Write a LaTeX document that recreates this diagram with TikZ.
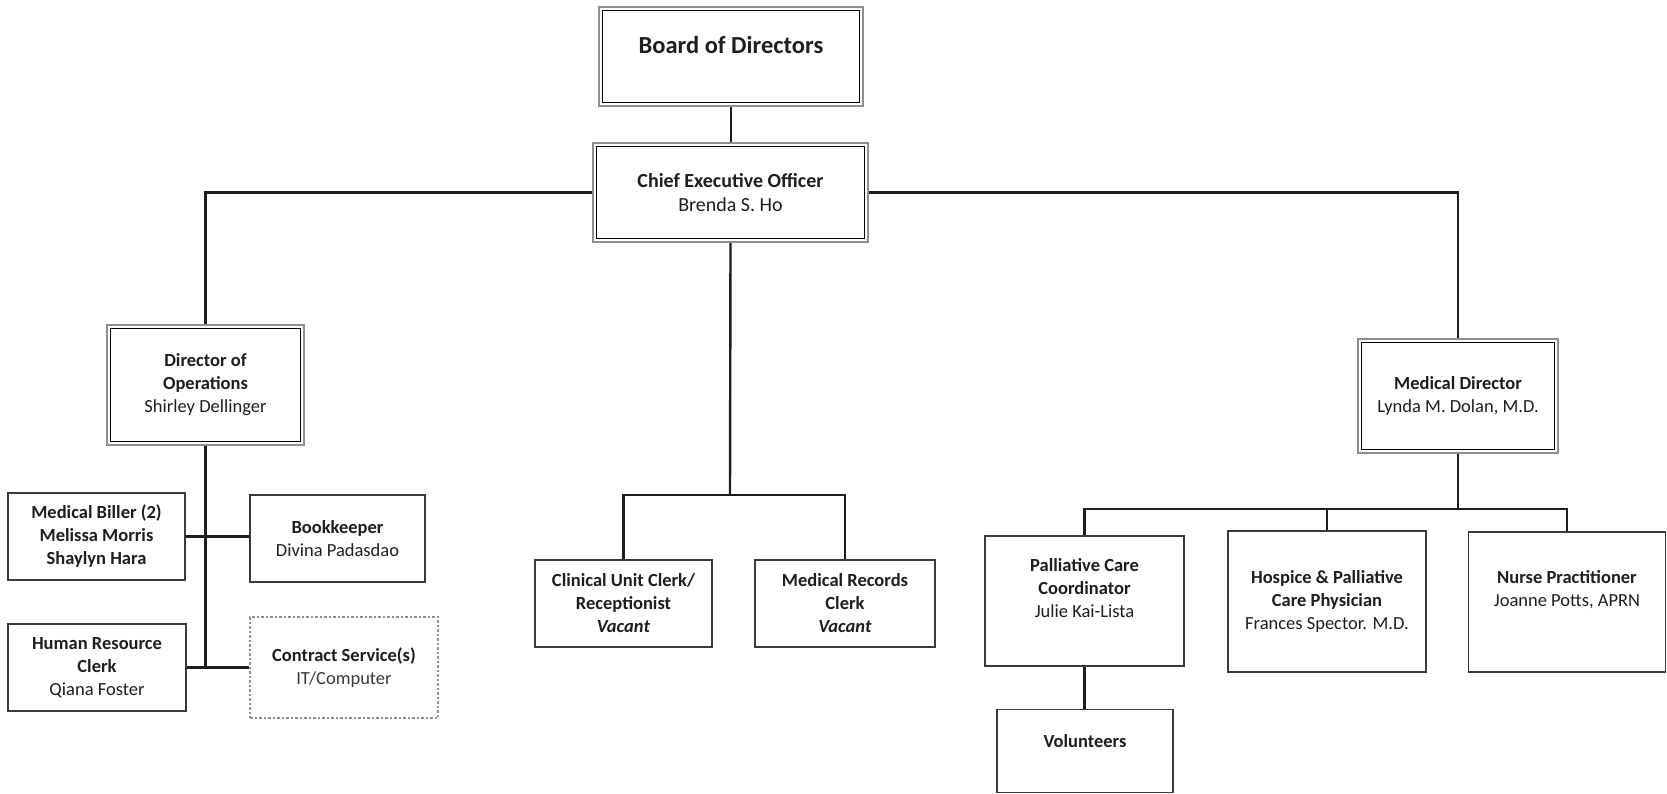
\documentclass[tikz,border=0pt]{standalone}
\usepackage{fontspec}
\setmainfont{Carlito}
\usepackage{tikz}
\definecolor{inkgrey}{HTML}{1E1E1E}
\definecolor{rimgrey}{HTML}{8F8F8F}
\definecolor{boxgrey}{HTML}{3A3A3A}
\newcommand{\staff}[1]{{\mdseries #1}} % name line, not bold
\tikzset{
	orgtext/.style={align=center, text=inkgrey, inner sep=0pt, font=\fontsize{18.5pt}{23pt}\selectfont\bfseries},
	boxdim/.style 2 args={minimum width=#1, minimum height=#2},
	plainbox/.style={orgtext, draw=boxgrey, line width=1.2pt},
	framedbox/.style={orgtext, draw=rimgrey, line width=1.8pt,
		path picture={\draw[black, line width=1.2pt] ([shift={(3.5pt,-3.5pt)}]path picture bounding box.north west) rectangle ([shift={(-3.5pt,3.5pt)}]path picture bounding box.south east);}},
	dashbox/.style={orgtext, draw=rimgrey, line width=1.2pt, dash pattern=on 2.5pt off 2pt},
	link/.style={draw=inkgrey, line width=2.4pt}
}
\begin{document}
\begin{tikzpicture}[x=1pt, y=-1pt]
	\useasboundingbox (0,0) rectangle (1667,794);

	% top
	\node[framedbox, boxdim={264}{99}, font=\fontsize{24.5pt}{29pt}\selectfont\bfseries] (board) at (731,56.5) {Board of Directors\\[-6pt]\mbox{}};
	\node[framedbox, boxdim={275}{99}, font=\fontsize{20pt}{24pt}\selectfont\bfseries] (ceo) at (730.5,192.5) {Chief Executive Officer\\\staff{Brenda S. Ho}};

	% operations side
	\node[framedbox, boxdim={197}{120}] (dirops) at (205.5,385) {Director of\\Operations\\\staff{Shirley Dellinger}};
	\node[plainbox, boxdim={177}{87}] (biller) at (96.5,536.5) {Medical Biller (2)\\Melissa Morris\\Shaylyn Hara};
	\node[plainbox, boxdim={175}{87}] (bookkeeper) at (337.5,538.5) {Bookkeeper\\\staff{Divina Padasdao}};
	\node[plainbox, boxdim={178}{87}] (hrclerk) at (97,667.5) {Human Resource\\Clerk\\\staff{Qiana Foster}};
	\node[dashbox, boxdim={188}{101}] (contract) at (344,667.5) {Contract Service(s)\\{\mdseries\color{boxgrey}IT/Computer}};

	% clerks under the CEO
	\node[plainbox, boxdim={177}{87}] (clinical) at (623.5,603.5) {Clinical Unit Clerk/\\Receptionist\\\textit{Vacant}};
	\node[plainbox, boxdim={180}{87}] (records) at (845,603.5) {Medical Records\\Clerk\\\textit{Vacant}};

	% medical side
	\node[framedbox, boxdim={200}{114}] (meddir) at (1458,396) {Medical Director\\\staff{Lynda M. Dolan, M.D.}};
	\node[plainbox, boxdim={199}{130}] (palliative) at (1084.5,601) {Palliative Care\\Coordinator\\\staff{Julie Kai-Lista}\\[4pt]\mbox{}};
	\node[plainbox, boxdim={198}{141}] (hospice) at (1327,601.5) {Hospice \& Palliative\\Care Physician\\\staff{Frances Spector. M.D.}};
	\node[plainbox, boxdim={197}{140}] (nurse) at (1567,602) {Nurse Practitioner\\\staff{Joanne Potts, APRN}\\[4pt]\mbox{}};
	\node[plainbox, boxdim={176}{83}] (volunteers) at (1085,751) {Volunteers\\[-4pt]\mbox{}};

	\coordinate (midbus) at (730,495);
	\coordinate (medbus) at (1458,509);

	% connectors
	\draw[link] (board.south) -- (board.south |- ceo.north);
	\draw[link] (ceo.west) -| (dirops.north);
	\draw[link] (ceo.east) -| (meddir.north);
	\draw[link] (ceo.south) -- (midbus);
	\draw[link] (clinical.north) |- (midbus) -| (records.north);
	\draw[link] (dirops.south) -- (dirops.south |- hrclerk.east);
	\draw[link] (biller.east) -- (biller.east -| bookkeeper.west);
	\draw[link] (hrclerk.east) -- (contract.west);
	\draw[link] (meddir.south) -- (medbus);
	\draw[link] (palliative.north) |- (medbus) -| (nurse.north);
	\draw[link] (hospice.north) -- (hospice.north |- medbus);
	\draw[link] (palliative.south) -- (palliative.south |- volunteers.north);
\end{tikzpicture}
\end{document}
